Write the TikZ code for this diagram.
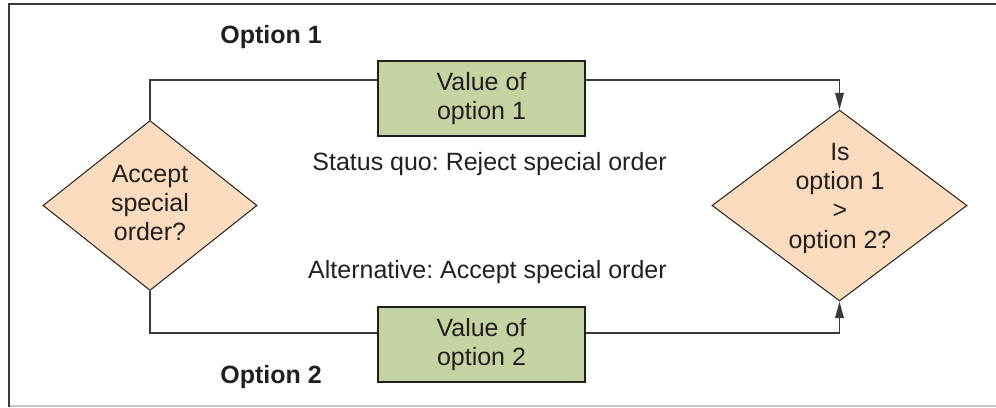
\documentclass[tikz,border=0pt]{standalone}
\usepackage{fontspec}
\setmainfont{Liberation Sans}
\usetikzlibrary{shapes.geometric,arrows.meta}
\frenchspacing

\definecolor{ink}{HTML}{231F20}
\definecolor{wire}{HTML}{3A3A3A}
\definecolor{peach}{RGB}{252,220,190}
\definecolor{sage}{RGB}{197,211,162}
\definecolor{rimlight}{HTML}{C8C8C8}

\tikzset{
  txt/.style={font=\fontsize{18.75pt}{22pt}\selectfont, text=ink, align=center, inner sep=0pt},
  bold/.style={txt, font=\fontsize{18.75pt}{22pt}\selectfont\bfseries},
  valuebox/.style={draw=ink, line width=0.9pt, fill=sage, rectangle, inner sep=0pt,
    minimum width=155.25pt, minimum height=56.25pt},
  decision/.style={draw=ink, line width=0.75pt, fill=peach, diamond, inner sep=0pt},
  wireline/.style={draw=wire, line width=1.1pt},
  arrowed/.style={wireline, -{Triangle[length=12.5pt,width=6.5pt]}},
}

\begin{document}
\begin{tikzpicture}[x=0.75pt, y=-0.75pt]
  \useasboundingbox (0,0) rectangle (996,407);

  % frame
  \draw[draw=rimlight, line width=1.1pt] (9,406) -- (996,406);
  \draw[draw=wire, line width=1.1pt] (996,4) -- (9,4) -- (9,406.5);

  % levels of the two option lines
  \coordinate (upper) at (0,80);
  \coordinate (lower) at (0,333);

  % decisions
  \node[decision, minimum width=160.5pt, minimum height=127.5pt] (ld) at (150,205.5) {};
  \node[txt] (ldtext) at (150,203) {Accept\\special\\order?};
  \node[decision, minimum width=191.25pt, minimum height=143.25pt] (rd) at (839.5,205.5) {};
  \node[txt] (rdtext) at (840,198) {Is\\option 1\\>\\option 2?};

  % values
  \node[valuebox] (box1) at (481.5,98.5) {};
  \node[txt] (box1text) at (481.5,98.5) {Value of\\option 1};
  \node[valuebox] (box2) at (481.5,344.5) {};
  \node[txt] (box2text) at (481.5,344.5) {Value of\\option 2};

  % connectors
  \draw[wireline] (ld.north) |- (box1.west |- upper);
  \draw[arrowed] (box1.east |- upper) -| (rd.north);
  \draw[wireline] (ld.south) |- (box2.west |- lower);
  \draw[arrowed] (box2.east |- lower) -| (rd.south);

  % labels
  \node[bold] (opt1) at (271,37) {Option 1};
  \node[bold] (opt2) at (271,377) {Option 2};
  \node[txt, anchor=east] (statusquo) at (667,164) {Status quo: Reject special order};
  \node[txt, anchor=east] (alternative) at (667,272) {Alternative: Accept special order};
\end{tikzpicture}
\end{document}
